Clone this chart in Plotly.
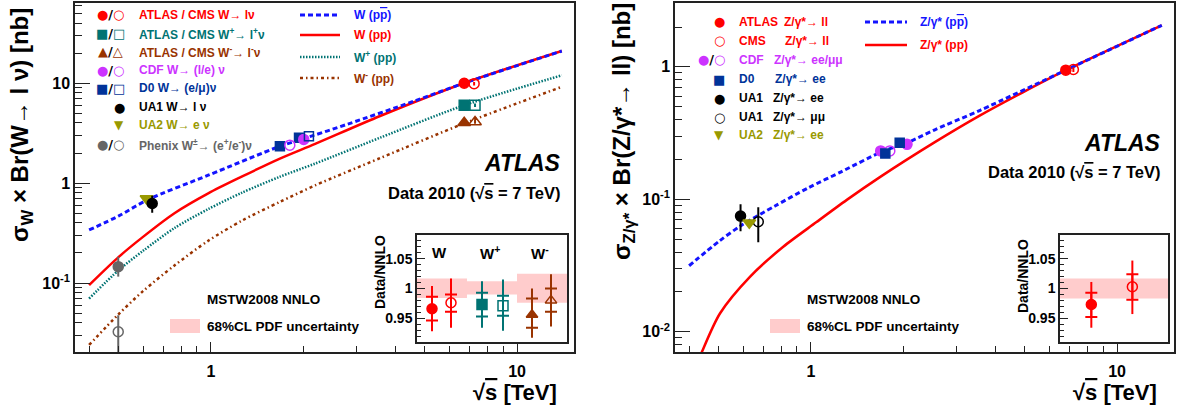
import plotly.graph_objects as go

W, H = 1178, 412
FONT = "Liberation Sans, Arial, sans-serif"
GFONT = "DejaVu Sans"

RED = "#ff0000"
TEAL = "#007373"
BROWN = "#993300"
MAGENTA = "#cc33ff"
NAVY = "#003399"
OLIVE = "#999900"
GREY = "#666666"
BLUE = "#1414ff"
PINK = "#ffcccc"

# ---------------- W panel: theory curves ----------------
wppbar_x = [0.40, 0.50, 0.62, 0.98, 1.68, 1.96, 2.8, 4.6, 6.7, 14.0]
wppbar_y = [0.34, 0.47, 0.68, 1.20, 2.34, 2.72, 3.9, 6.6, 10.0, 21.0]

wpp_x = [0.40, 0.50, 0.60, 0.76, 0.98, 1.26, 1.68, 2.19, 3.57, 6.7, 14.0]
wpp_y = [0.0955, 0.183, 0.29, 0.50, 0.79, 1.16, 1.76, 2.47, 4.7, 10.0, 21.0]
wplus_y = [0.070, 0.135, 0.21, 0.355, 0.55, 0.80, 1.16, 1.57, 2.85, 6.0, 12.0]
wminus_y = [0.024, 0.049, 0.083, 0.150, 0.265, 0.42, 0.65, 0.95, 1.78, 3.95, 9.2]

# ---------------- W panel: measurements ----------------
atlas_w_x, atlas_w_y, atlas_w_e = [6.72], [10.0], [0.35]
cms_w_x, cms_w_y, cms_w_e = [7.24], [9.9], [0.4]
atlas_wp_x, atlas_wp_y, atlas_wp_e = [6.72], [6.03], [0.22]
cms_wp_x, cms_wp_y, cms_wp_e = [7.29], [6.03], [0.25]
atlas_wm_x, atlas_wm_y, atlas_wm_e = [6.72], [4.02], [0.16]
cms_wm_x, cms_wm_y, cms_wm_e = [7.29], [4.1], [0.18]
cdf_w_fx, cdf_w_fy = [2.01], [2.74]
cdf_w_ox, cdf_w_oy = [1.81], [2.40]
d0_w_fx, d0_w_fy = [1.68, 1.94], [2.34, 2.84]
d0_w_ox, d0_w_oy = [2.09], [2.95]
ua1_w_x, ua1_w_y, ua1_w_e = [0.643], [0.626], [0.12]
ua2_w_x, ua2_w_y = [0.616], [0.703]
phx_f_x, phx_f_y, phx_f_up, phx_f_dn = [0.498], [0.146], [0.037], [0.030]
phx_o_x, phx_o_y, phx_o_up, phx_o_dn = [0.498], [0.0326], [0.015], [0.0323]

# ---------------- Z panel: theory curves ----------------
zppbar_x = [0.40, 0.50, 0.589, 0.763, 0.98, 1.26, 1.70, 2.08, 2.54, 3.57, 6.8, 14.0]
zppbar_y = [0.0315, 0.048, 0.063, 0.089, 0.122, 0.162, 0.228, 0.27, 0.335, 0.47, 0.944, 2.06]
zpp_x = [0.40, 0.44, 0.505, 0.632, 0.812, 1.04, 1.31, 1.68, 2.54, 3.57, 4.94, 6.8, 14.0]
zpp_y = [0.0040, 0.0070, 0.0138, 0.026, 0.0438, 0.067, 0.099, 0.147, 0.27, 0.43, 0.645, 0.944, 2.06]

# ---------------- Z panel: measurements ----------------
atlas_z_x, atlas_z_y, atlas_z_e = [6.8], [0.944], [0.03]
cms_z_x, cms_z_y, cms_z_e = [7.2], [0.955], [0.04]
cdf_z_fx, cdf_z_fy = [1.69, 2.06], [0.232, 0.26]
cdf_z_ox, cdf_z_oy = [1.81], [0.232]
d0_z_fx, d0_z_fy = [1.75, 1.95], [0.222, 0.267]
ua1ee_x, ua1ee_y, ua1ee_up, ua1ee_dn = [0.589], [0.0747], [0.017], [0.0174]
ua1mm_x, ua1mm_y, ua1mm_up, ua1mm_dn = [0.673], [0.0677], [0.0194], [0.0204]
ua2_z_x, ua2_z_y = [0.629], [0.0665]

# ---------------- ratio insets ----------------
band_w_x = [0.5, 1.5, 2.5]
band_w_lo = [0.984, 0.990, 0.976]
band_w_hi = [1.017, 1.012, 1.025]
ins_w_labels = ["W", "W<sup>+</sup>", "W<sup>-</sup>"]
ins_w_x = [0.30, 0.68, 1.30, 1.72, 2.30, 2.68]
ins_w_y = [0.966, 0.976, 0.973, 0.971, 0.956, 0.980]
ins_w_in_hi = [0.986, 0.990, 0.993, 0.988, 0.983, 1.000]
ins_w_in_lo = [0.946, 0.961, 0.953, 0.954, 0.934, 0.961]
ins_w_out_hi = [1.004, 1.017, 1.012, 1.015, 1.000, 1.024]
ins_w_out_lo = [0.928, 0.934, 0.934, 0.929, 0.917, 0.936]

band_z_x, band_z_lo, band_z_hi = [0.5], [0.983], [1.017]
ins_z_x = [0.29, 0.67]
ins_z_y = [0.973, 1.003]
ins_z_in_hi = [0.993, 1.024]
ins_z_in_lo = [0.952, 0.981]
ins_z_out_hi = [1.011, 1.047]
ins_z_out_lo = [0.934, 0.957]

fig = go.Figure()


def curve(x, y, color, width, dash, xa, ya):
    fig.add_trace(go.Scatter(x=x, y=y, mode="lines", xaxis=xa, yaxis=ya,
                             line=dict(color=color, width=width, dash=dash, shape="spline", smoothing=0.8),
                             hoverinfo="skip"))


def pts(x, y, color, symbol, xa, ya, size=10, up=None, dn=None, ecolor=None):
    err = None
    if up is not None:
        err = dict(type="data", array=up, arrayminus=dn if dn is not None else up,
                   color=ecolor or color, thickness=2, width=0, symmetric=False)
    fig.add_trace(go.Scatter(x=x, y=y, mode="markers", xaxis=xa, yaxis=ya, error_y=err,
                             marker=dict(color=color, symbol=symbol, size=size,
                                         line=dict(color=color, width=1.5)),
                             hoverinfo="skip"))


# W panel curves
curve(wpp_x, wminus_y, BROWN, 2.5, "3px,3px,1.5px,3px", "x", "y")
curve(wpp_x, wplus_y, TEAL, 2.5, "1.5px,1.5px", "x", "y")
curve(wpp_x, wpp_y, RED, 2.5, "solid", "x", "y")
curve(wppbar_x, wppbar_y, BLUE, 3, "5px,3px", "x", "y")

# W panel points
pts(phx_o_x, phx_o_y, GREY, "circle-open", "x", "y", up=phx_o_up, dn=phx_o_dn)
pts(phx_f_x, phx_f_y, GREY, "circle", "x", "y", up=phx_f_up, dn=phx_f_dn)
pts(ua2_w_x, ua2_w_y, OLIVE, "triangle-down", "x", "y", size=11)
pts(ua1_w_x, ua1_w_y, "black", "circle", "x", "y", up=ua1_w_e)
pts(d0_w_fx, d0_w_fy, NAVY, "square", "x", "y", size=9)
pts(cdf_w_ox, cdf_w_oy, MAGENTA, "circle-open", "x", "y")
pts(cdf_w_fx, cdf_w_fy, MAGENTA, "circle", "x", "y")
pts(d0_w_ox, d0_w_oy, NAVY, "square-open", "x", "y", size=9)
pts(atlas_w_x, atlas_w_y, RED, "circle", "x", "y", up=atlas_w_e)
pts(cms_w_x, cms_w_y, RED, "circle-open", "x", "y", up=cms_w_e)
pts(atlas_wp_x, atlas_wp_y, TEAL, "square", "x", "y", up=atlas_wp_e)
pts(cms_wp_x, cms_wp_y, TEAL, "square-open", "x", "y", up=cms_wp_e)
pts(atlas_wm_x, atlas_wm_y, BROWN, "triangle-up", "x", "y", size=11, up=atlas_wm_e)
pts(cms_wm_x, cms_wm_y, BROWN, "triangle-up-open", "x", "y", size=11, up=cms_wm_e)

# Z panel curves
curve(zpp_x, zpp_y, RED, 2.5, "solid", "x2", "y2")
curve(zppbar_x, zppbar_y, BLUE, 3, "5px,3px", "x2", "y2")

# Z panel points
pts(ua1ee_x, ua1ee_y, "black", "circle", "x2", "y2", up=ua1ee_up, dn=ua1ee_dn)
pts(ua1mm_x, ua1mm_y, "black", "circle-open", "x2", "y2", up=ua1mm_up, dn=ua1mm_dn)
pts(ua2_z_x, ua2_z_y, OLIVE, "triangle-down", "x2", "y2", size=11)
pts(cdf_z_fx, cdf_z_fy, MAGENTA, "circle", "x2", "y2")
pts(cdf_z_ox, cdf_z_oy, MAGENTA, "circle-open", "x2", "y2")
pts(d0_z_fx, d0_z_fy, NAVY, "square", "x2", "y2", size=9)
pts(atlas_z_x, atlas_z_y, RED, "circle", "x2", "y2", up=atlas_z_e)
pts(cms_z_x, cms_z_y, RED, "circle-open", "x2", "y2", up=cms_z_e)

# Inset bands
fig.add_trace(go.Bar(x=band_w_x, y=[h - l for h, l in zip(band_w_hi, band_w_lo)], base=band_w_lo,
                     width=1.0, marker=dict(color=PINK, line=dict(width=0)), xaxis="x3", yaxis="y3",
                     hoverinfo="skip"))
fig.add_trace(go.Bar(x=band_z_x, y=[h - l for h, l in zip(band_z_hi, band_z_lo)], base=band_z_lo,
                     width=1.0, marker=dict(color=PINK, line=dict(width=0)), xaxis="x4", yaxis="y4",
                     hoverinfo="skip"))


def ratio_pts(x, y, ihi, ilo, ohi, olo, color, symbols, xa, ya):
    fig.add_trace(go.Scatter(
        x=x, y=y, mode="markers", xaxis=xa, yaxis=ya, hoverinfo="skip",
        marker=dict(size=1, color="rgba(0,0,0,0)"),
        error_y=dict(type="data", symmetric=False, array=[a - b for a, b in zip(ohi, y)],
                     arrayminus=[b - a for a, b in zip(olo, y)], color=color, thickness=2, width=0)))
    fig.add_trace(go.Scatter(
        x=x, y=y, mode="markers", xaxis=xa, yaxis=ya, hoverinfo="skip",
        marker=dict(size=10, color=color, symbol=symbols, line=dict(color=color, width=1.5)),
        error_y=dict(type="data", symmetric=False, array=[a - b for a, b in zip(ihi, y)],
                     arrayminus=[b - a for a, b in zip(ilo, y)], color=color, thickness=2, width=6)))


cols = [RED, TEAL, BROWN]
syms = [["circle", "circle-open"], ["square", "square-open"], ["triangle-up", "triangle-up-open"]]
for g in range(3):
    s = slice(2 * g, 2 * g + 2)
    ratio_pts(ins_w_x[s], ins_w_y[s], ins_w_in_hi[s], ins_w_in_lo[s], ins_w_out_hi[s], ins_w_out_lo[s],
              cols[g], syms[g], "x3", "y3")
ratio_pts(ins_z_x, ins_z_y, ins_z_in_hi, ins_z_in_lo, ins_z_out_hi, ins_z_out_lo, RED,
          ["circle", "circle-open"], "x4", "y4")


# ---------------- axes ----------------
def minor_vals(lo_exp, hi_exp):
    return [m * 10 ** e for e in range(lo_exp, hi_exp + 1) for m in range(2, 10)]


ydom = [1 - 352 / H, 1 - 3.3 / H]
insdom = [1 - 342 / H, 1 - 235 / H]
common_main = dict(showline=True, mirror=True, linecolor="#222", linewidth=1.5, showgrid=False,
                   zeroline=False, ticks="inside", tickcolor="#222",
                   tickfont=dict(size=16, family=FONT, color="black", weight="bold"))
xr = [-0.444, 1.186]
xminor = dict(tickmode="array", tickvals=minor_vals(-1, 1), ticks="inside", ticklen=6, tickcolor="#222")
yminor = dict(tickmode="array", tickvals=minor_vals(-3, 1), ticks="inside", ticklen=7, tickcolor="#222")
inset_common = dict(showline=True, mirror=True, linecolor="#222", linewidth=1.5, showgrid=False, zeroline=False)
inset_y = dict(range=[0.91, 1.09], tickvals=[0.95, 1.0, 1.05], ticktext=["0.95", "1", "1.05"],
               ticks="inside", ticklen=8, tickcolor="#222",
               minor=dict(dtick=0.01, ticks="inside", ticklen=4, tickcolor="#222"),
               tickfont=dict(size=14, family=FONT, color="black", weight="bold"), **inset_common)

fig.update_layout(
    xaxis=dict(domain=[75 / W, 574 / W], anchor="y", type="log", range=xr, tickvals=[1, 10],
               ticktext=["1", "10"], ticklen=10, minor=xminor, ticklabelstandoff=4, **common_main),
    yaxis=dict(domain=ydom, anchor="x", type="log", range=[-1.69, 1.80], tickvals=[0.1, 1, 10],
               ticktext=["10<sup>-1</sup>", "1", "10"], ticklen=15, minor=yminor, **common_main),
    xaxis2=dict(domain=[675 / W, 1174 / W], anchor="y2", type="log", range=xr, tickvals=[1, 10],
                ticktext=["1", "10"], ticklen=10, minor=xminor, ticklabelstandoff=4, **common_main),
    yaxis2=dict(domain=ydom, anchor="x2", type="log", range=[-2.153, 0.48], tickvals=[0.01, 0.1, 1],
                ticktext=["10<sup>-2</sup>", "10<sup>-1</sup>", "1"], ticklen=15, minor=yminor, **common_main),
    xaxis3=dict(domain=[417 / W, 567 / W], anchor="y3", range=[0, 3], showticklabels=False, ticks="",
                **inset_common),
    yaxis3=dict(domain=insdom, anchor="x3", **inset_y),
    xaxis4=dict(domain=[1060 / W, 1168 / W], anchor="y4", range=[0, 1], showticklabels=False, ticks="",
                **inset_common),
    yaxis4=dict(domain=insdom, anchor="x4", **inset_y),
    width=W, height=H, margin=dict(l=0, r=0, t=0, b=0), paper_bgcolor="white", plot_bgcolor="white",
    showlegend=False, barmode="overlay", font=dict(family=FONT, color="black"),
)


# ---------------- text & legend decorations ----------------
def txt(x, y, s, size=12, color="black", xanchor="left", angle=0, italic=False, family=FONT):
    fig.add_annotation(x=x / W, y=1 - y / H, xref="paper", yref="paper", text=s, showarrow=False,
                       xanchor=xanchor, yanchor="middle", textangle=angle,
                       font=dict(size=size, color=color, family=family, weight="bold",
                                 style="italic" if italic else "normal"))


def pair(c, a, b):
    return (f"<span style='color:{c}'>{a}</span><span style='color:black'>/</span>"
            f"<span style='color:{c}'>{b}</span>")


def hline(x0, x1, y, color, width, dash):
    fig.add_shape(type="line", xref="paper", yref="paper", x0=x0 / W, x1=x1 / W, y0=1 - y / H, y1=1 - y / H,
                  line=dict(color=color, width=width, dash=dash))


PPBAR = "p<span style='text-decoration:overline'>p</span>"
SQRTS = "√<span style='text-decoration:overline'>s</span>"

# axis titles
txt(22, 125, "σ<sub>W</sub> × Br(W→ l ν) [nb]", size=24, xanchor="center", angle=-90)
txt(623, 132, "σ<sub>Z/γ*</sub> × Br(Z/γ*→ ll) [nb]", size=24, xanchor="center", angle=-90)
txt(515, 392, f"{SQRTS} [TeV]", size=22, xanchor="center")
txt(1115, 392, f"{SQRTS} [TeV]", size=22, xanchor="center")
txt(380, 272, "Data/NNLO", size=14, xanchor="center", angle=-90)
txt(1023, 276, "Data/NNLO", size=14, xanchor="center", angle=-90)

# inset labels
for lx, lab in zip([439, 490, 540], ins_w_labels):
    txt(lx, 253, lab, size=15, xanchor="center")

# W legend (markers)
wleg = [
    (pair(RED, "●", "○"), "ATLAS / CMS W→ lν", RED),
    (pair(TEAL, "■", "□"), "ATLAS / CMS W<sup>+</sup>→ l<sup>+</sup>ν", TEAL),
    (pair(BROWN, "▲", "△"), "ATLAS / CMS W<sup>-</sup>→ l<sup>-</sup>ν", BROWN),
    (pair(MAGENTA, "●", "○"), "CDF W→ (l/e) ν", MAGENTA),
    (pair(NAVY, "■", "□"), "D0 W→ (e/μ)ν", NAVY),
    (None, "UA1 W→ l ν", "black"),
    (None, "UA2 W→ e ν", OLIVE),
    (pair(GREY, "●", "○"), "Phenix W<sup>±</sup>→ (e<sup>+</sup>/e<sup>-</sup>)ν", GREY),
]
wrows = [15, 33.5, 52, 70, 88.5, 107, 125.5, 145]
for (sym, lab, c), ry in zip(wleg, wrows):
    if sym:
        txt(110, ry, sym, size=13, xanchor="center", family=GFONT)
    txt(137, ry, lab, size=12, color=c)
txt(119, wrows[5], "●", size=13, color="black", xanchor="center", family=GFONT)
txt(119, wrows[6], "▼", size=12, color=OLIVE, xanchor="center", family=GFONT)

# W legend (lines)
lrows = [15, 35, 57, 78]
hline(300, 340, lrows[0], BLUE, 3, "5px,3px")
hline(300, 340, lrows[1], RED, 2.5, "solid")
hline(300, 340, lrows[2], TEAL, 2.5, "1.5px,1.5px")
hline(300, 340, lrows[3], BROWN, 2.5, "3px,3px,1.5px,3px")
txt(352, lrows[0], f"W ({PPBAR})", size=12, color=BLUE)
txt(352, lrows[1], "W (pp)", size=12, color=RED)
txt(352, lrows[2], "W<sup>+</sup> (pp)", size=12, color=TEAL)
txt(352, lrows[3], "W<sup>-</sup> (pp)", size=12, color=BROWN)

# Z legend (markers)
zrows = [22, 41, 60, 79, 98, 117, 135]
zleg = [("●", RED, "ATLAS", "Z/γ*→ ll", 782), ("○", RED, "CMS", "Z/γ*→ ll", 783),
        (None, MAGENTA, "CDF", "Z/γ*→ ee/μμ", 772), ("■", NAVY, "D0", "Z/γ*→ ee", 773),
        ("●", "black", "UA1", "Z/γ*→ ee", 771), ("○", "black", "UA1", "Z/γ*→ μμ", 771),
        ("▼", OLIVE, "UA2", "Z/γ*→ ee", 771)]
for (sym, c, name, proc, px0), ry in zip(zleg, zrows):
    if sym:
        txt(719, ry, sym, size=13 if sym != "▼" else 12, color=c, xanchor="center", family=GFONT)
    txt(737, ry, name, size=12, color=c)
    txt(px0, ry, proc, size=12, color=c)
txt(711, zrows[2], pair(MAGENTA, "●", "○"), size=13, xanchor="center", family=GFONT)

# Z legend (lines)
hline(865, 907, 22, BLUE, 3, "5px,3px")
hline(865, 907, 45, RED, 2.5, "solid")
txt(918, 22, f"Z/γ* ({PPBAR})", size=12, color=BLUE)
txt(918, 45, "Z/γ* (pp)", size=12, color=RED)

# ATLAS labels
txt(563, 163, "ATLAS", size=23, xanchor="right", italic=True)
txt(563, 193, f"Data 2010 ({SQRTS} = 7 TeV)", size=16.5, xanchor="right")
txt(1163, 143, "ATLAS", size=23, xanchor="right", italic=True)
txt(1163, 172, f"Data 2010 ({SQRTS} = 7 TeV)", size=16.5, xanchor="right")

# MSTW legend
for off in (0, 600):
    txt(263 + off, 299, "MSTW2008 NNLO", size=13.5, xanchor="center")
    fig.add_shape(type="rect", xref="paper", yref="paper", x0=(170 + off) / W, x1=(200 + off) / W,
                  y0=1 - 333 / H, y1=1 - 319 / H, fillcolor=PINK, line=dict(width=0))
    txt(205 + off, 326, "68%CL PDF uncertainty", size=13.5)

fig.write_html("out.html")
